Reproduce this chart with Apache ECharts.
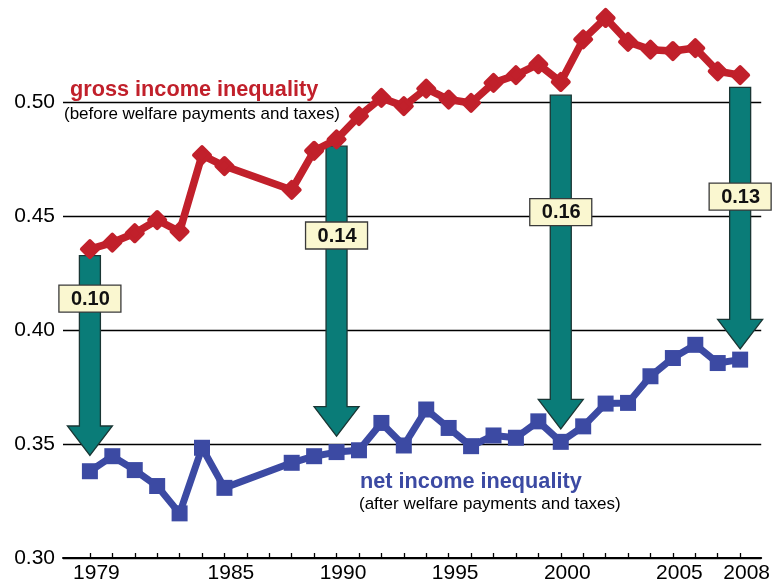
<!DOCTYPE html>
<html>
<head>
<meta charset="utf-8">
<script src="https://cdn.jsdelivr.net/npm/echarts@6/dist/echarts.min.js"></script>
<style>
html,body{margin:0;padding:0;background:#fff;}
#chart{width:773px;height:584px;}
</style>
</head>
<body>
<div id="chart"></div>
<script>
// ---- data ----
const years = [1979,1980,1981,1982,1983,1984,1985,1988,1989,1990,1991,1992,1993,1994,1995,1996,1997,1998,1999,2000,2001,2002,2003,2004,2005,2006,2007,2008];
const gross = [0.4356,0.4385,0.4426,0.4484,0.4433,0.4769,0.4721,0.4616,0.4788,0.4838,0.4940,0.5020,0.4984,0.5061,0.5013,0.4998,0.5086,0.5120,0.5168,0.5090,0.5277,0.5371,0.5266,0.5232,0.5226,0.5239,0.5137,0.5120];
const net = [0.3381,0.3447,0.3386,0.3316,0.3196,0.3484,0.3308,0.3418,0.3447,0.3465,0.3473,0.3593,0.3494,0.3652,0.3571,0.3491,0.3538,0.3528,0.3600,0.3510,0.3578,0.3678,0.3681,0.3798,0.3878,0.3936,0.3856,0.3871];
const xLabelYears = [1979,1985,1990,1995,2000,2005,2008];
const xTickYears = [1979,1980,1981,1982,1983,1984,1985,1986,1987,1988,1989,1990,1991,1992,1993,1994,1995,1996,1997,1998,1999,2000,2001,2002,2003,2004,2005,2006,2007,2008];
const arrowYears = [1979,1990,2000,2008];
const arrowTop = [0.4328,0.4808,0.5032,0.5066];
const arrowTip = [0.3450,0.3535,0.3567,0.3918];
const gapLevel = [0.4139,0.4416,0.4519,0.4587];
const gapLabels = ['0.10','0.14','0.16','0.13'];

const FONT = '"Liberation Sans", Arial, Helvetica, sans-serif';
const RED = '#C1202B';
const BLUE = '#3C4AA3';

const chart = echarts.init(document.getElementById('chart'), null, {renderer:'canvas'});

const arrowData = arrowYears.map((y,i)=>[y, arrowTop[i], arrowTip[i], gapLevel[i]]);

const option = {
  backgroundColor:'#fff',
  animation:false,
  grid:{left:63, right:11, top:0, bottom:25.3, containLabel:false},
  xAxis:{
    type:'value', min:1977.8, max:2008.94,
    axisLine:{show:true, lineStyle:{color:'#000', width:2}},
    axisTick:{show:true, inside:true, length:5, customValues:xTickYears, lineStyle:{color:'#000', width:1.3}},
    axisLabel:{show:true, customValues:xLabelYears, color:'#000', fontSize:21, fontFamily:FONT, margin:5, padding:[0,0,0,13],
      formatter:(v)=>String(v)},
    splitLine:{show:false}
  },
  yAxis:{
    type:'value', min:0.30, max:0.545, interval:0.05,
    axisLine:{show:false}, axisTick:{show:false},
    axisLabel:{color:'#000', fontSize:21, fontFamily:FONT, margin:8, showMaxLabel:false,
      formatter:(v)=>v.toFixed(2)},
    splitLine:{show:true, showMaxLine:false, lineStyle:{color:'#000', width:1.4}}
  },
  series:[
    {
      type:'custom', z:2, clip:false,
      data:arrowData,
      renderItem:(params, api)=>{
        const i = params.dataIndex;
        const x = api.value(0);
        const pTop = api.coord([x, api.value(1)]);
        const pTip = api.coord([x, api.value(2)]);
        const pL = api.coord([x, api.value(3)]);
        const cx = pTop[0], sw = 10.5, hw = 22.5, hh = 29.5;
        const base = pTip[1] - hh;
        return {type:'group', children:[
          {type:'polygon', shape:{points:[[cx-sw,pTop[1]],[cx+sw,pTop[1]],[cx+sw,base],[cx+hw,base],[cx,pTip[1]],[cx-hw,base],[cx-sw,base]]},
            style:{fill:'#0A7C78', stroke:'#1A3634', lineWidth:1.3}},
          {type:'rect', shape:{x:pL[0]-31, y:pL[1]-13.5, width:62, height:27},
            style:{fill:'#FAF7D0', stroke:'#3A3A3A', lineWidth:1.3}},
          {type:'text', style:{text:gapLabels[i], x:pL[0]+0.5, y:pL[1]+0.5, align:'center', verticalAlign:'middle',
            font:'bold 20px ' + FONT, fill:'#111'}}
        ]};
      }
    },
    {
      name:'gross', type:'line', z:3,
      data:years.map((y,i)=>[y, gross[i]]),
      lineStyle:{color:RED, width:7.5},
      itemStyle:{color:RED, borderColor:RED, borderWidth:4, borderJoin:'round'},
      symbol:'diamond', symbolSize:16, showSymbol:true
    },
    {
      name:'net', type:'line', z:3,
      data:years.map((y,i)=>[y, net[i]]),
      lineStyle:{color:BLUE, width:7},
      itemStyle:{color:BLUE},
      symbol:'rect', symbolSize:16, showSymbol:true
    }
  ],
  graphic:[
    {type:'text', left:70, top:79, style:{text:'gross income inequality', font:'bold 21.7px ' + FONT, fill:RED}},
    {type:'text', left:64, top:106, style:{text:'(before welfare payments and taxes)', font:'17px ' + FONT, fill:'#000'}},
    {type:'text', left:360, top:471, style:{text:'net income inequality', font:'bold 21.7px ' + FONT, fill:BLUE}},
    {type:'text', left:359, top:496, style:{text:'(after welfare payments and taxes)', font:'17px ' + FONT, fill:'#000'}}
  ]
};
chart.setOption(option);
</script>
</body>
</html>
